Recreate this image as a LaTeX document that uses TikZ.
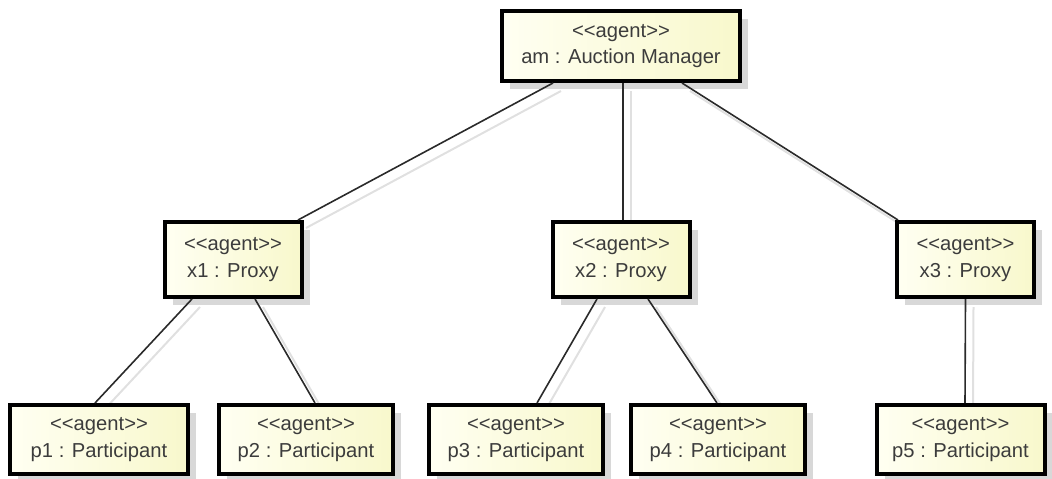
\documentclass[tikz,border=0pt]{standalone}
\usepackage{fontspec}
\setmainfont{Liberation Sans}
\usetikzlibrary{shadows,calc}
\pgfdeclarelayer{background}
\pgfsetlayers{background,main}
\definecolor{boxleft}{HTML}{FFFFF2}
\definecolor{boxright}{HTML}{F8F8CC}
\definecolor{textgray}{HTML}{3C3C3C}
\definecolor{shadegray}{HTML}{D8D8D8}
\definecolor{linkgray}{HTML}{2A2A2A}

\begin{document}
\begin{tikzpicture}[x=1pt,y=-1pt,
  agent/.style={draw=black, line width=4pt, left color=boxleft, right color=boxright,
    text=textgray, align=center, inner sep=0pt,
    font=\fontsize{20.2}{26.5}\selectfont,
    drop shadow={shadow xshift=8pt, shadow yshift=-8pt, fill=shadegray, opacity=1}},
  proxy/.style={agent, minimum width=137pt, minimum height=75pt},
  part/.style={agent, minimum width=174pt, minimum height=69pt},
  link/.style={line width=1.6pt, draw=linkgray},
  linkshadow/.style={line width=2pt, draw=shadegray!80}]
\useasboundingbox (0,0) rectangle (1052,479);

% agents
\node[agent, minimum width=238pt, minimum height=70pt] (am) at (621,46)
  {<{}<agent>{}>\\am : Auction Manager};
\node[proxy] (x1) at (233,259.5) {<{}<agent>{}>\\x1 : Proxy};
\node[proxy] (x2) at (621,259.5) {<{}<agent>{}>\\x2 : Proxy};
\node[proxy] (x3) at (965.5,259.5) {<{}<agent>{}>\\x3 : Proxy};
\node[part, minimum width=178pt] (p1) at (99,439.5) {<{}<agent>{}>\\p1 : Participant};
\node[part] (p2) at (306,439.5) {<{}<agent>{}>\\p2 : Participant};
\node[part] (p3) at (516,439.5) {<{}<agent>{}>\\p3 : Participant};
\node[part] (p4) at (718,439.5) {<{}<agent>{}>\\p4 : Participant};
\node[part, minimum width=168pt] (p5) at (960.5,439.5) {<{}<agent>{}>\\p5 : Participant};

% connectors: each one is a pair of (from node, x offset, to node, x offset)
\foreach \a/\da/\b/\db in {am/-68/x1/65, am/2/x2/2, am/61/x3/-67.5,
                           x1/-41/p1/-4, x1/22/p2/9,
                           x2/-24/p3/21, x2/27/p4/-1,
                           x3/0/p5/4.5}{
  \begin{pgfonlayer}{background}
    \draw[linkshadow] ($(\a.south)+(\da+8,8)$) -- ($(\b.north)+(\db+8,8)$);
  \end{pgfonlayer}
  \draw[link] ($(\a.south)+(\da,0)$) -- ($(\b.north)+(\db,0)$);
}
\end{tikzpicture}
\end{document}
